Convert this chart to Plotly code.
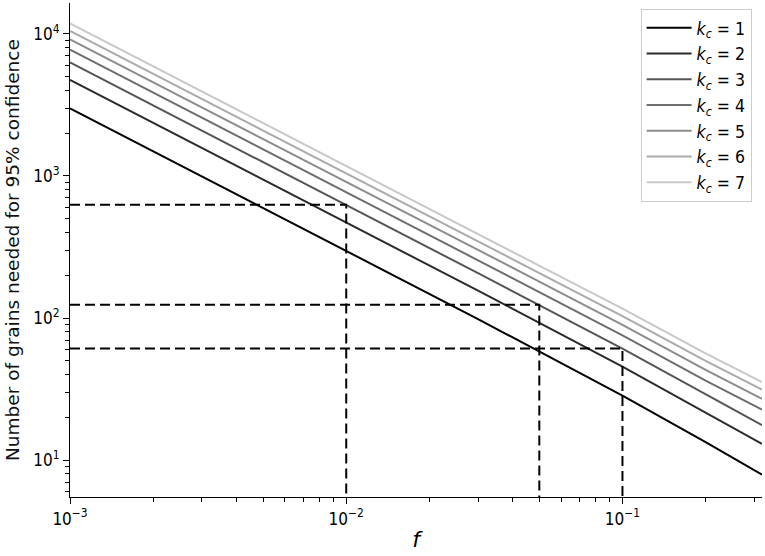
import plotly.graph_objects as go
import numpy as np

# Fraction f at which values were read
f_vals = [0.001, 0.01, 0.03, 0.1, 0.2, 0.32]
# Number of grains needed for 95% confidence, per k_c
n_k1 = [2994, 298, 98.4, 28.4, 13.4, 7.9]
n_k2 = [4742, 473, 156, 45.5, 21.6, 13.0]
n_k3 = [6293, 627, 207, 61.0, 29.2, 17.6]
n_k4 = [7750, 772, 255, 75.5, 36.3, 22.7]
n_k5 = [9150, 912, 302, 89.5, 43.2, 27.0]
n_k6 = [10500, 1048, 347, 103, 50.0, 31.3]
n_k7 = [11840, 1181, 391, 116.5, 56.5, 35.4]
series = [n_k1, n_k2, n_k3, n_k4, n_k5, n_k6, n_k7]
kc_labels = ["1", "2", "3", "4", "5", "6", "7"]
colors = ["#000000", "#2b2b2b", "#555555", "#6e6e6e", "#8c8c8c", "#aaaaaa", "#c8c8c8"]

# Reference points (k_c = 3)
dash_f = [0.01, 0.05, 0.1]
dash_n = [628, 124, 61]

x_lim = [0.001, 0.32]
y_lim = [5.5, 16500]

fig = go.Figure()
for vals, lab, c in zip(series, kc_labels, colors):
    fig.add_trace(go.Scatter(
        x=f_vals, y=vals, mode="lines",
        line=dict(color=c, width=2),
        name=f"<i>k</i><sub><i>c</i></sub> = {lab}",
    ))

for fx, ny in zip(dash_f, dash_n):
    fig.add_trace(go.Scatter(
        x=[x_lim[0], fx, fx], y=[ny, ny, y_lim[0]], mode="lines",
        line=dict(color="black", width=2, dash="10px,5px"),
        showlegend=False, hoverinfo="skip",
    ))

x_minor = [m * 10.0 ** e for e in (-3, -2, -1) for m in range(2, 10)]
x_minor = [v for v in x_minor if v <= x_lim[1]]
y_minor = [m * 10.0 ** e for e in (0, 1, 2, 3, 4) for m in range(2, 10)]
y_minor = [v for v in y_minor if y_lim[0] <= v <= y_lim[1]]

font = "DejaVu Sans Condensed, DejaVu Sans"
fig.update_layout(
    width=765, height=556,
    margin=dict(l=70, r=3, t=3, b=59),
    plot_bgcolor="white", paper_bgcolor="white",
    font=dict(family=font, color="black", size=16),
    legend=dict(
        x=0.985, y=0.988, xanchor="right", yanchor="top",
        bordercolor="#cccccc", borderwidth=1, bgcolor="white",
        font=dict(size=17.5, family=font), tracegroupgap=0, itemwidth=45,
    ),
    xaxis=dict(
        type="log", range=[np.log10(x_lim[0]), np.log10(x_lim[1])],
        showgrid=False, zeroline=False, automargin=False,
        showline=True, linecolor="black", linewidth=1.3,
        ticks="outside", ticklen=6, tickwidth=1.3, tickcolor="black",
        tickvals=[1e-3, 1e-2, 1e-1],
        ticktext=["10<sup>−3</sup>", "10<sup>−2</sup>", "10<sup>−1</sup>"],
        tickfont=dict(size=17, family=font),
        minor=dict(tickvals=x_minor, ticks="outside", ticklen=3.5, tickwidth=1, tickcolor="black"),
        title=dict(text="<i>f</i>", font=dict(size=22, family="DejaVu Sans"), standoff=4),
    ),
    yaxis=dict(
        type="log", range=[np.log10(y_lim[0]), np.log10(y_lim[1])],
        showgrid=False, zeroline=False, automargin=False,
        showline=True, linecolor="black", linewidth=1.3,
        ticks="outside", ticklen=6, tickwidth=1.3, tickcolor="black",
        tickvals=[1e1, 1e2, 1e3, 1e4],
        ticktext=["10<sup>1</sup>", "10<sup>2</sup>", "10<sup>3</sup>", "10<sup>4</sup>"],
        tickfont=dict(size=17, family=font),
        minor=dict(tickvals=y_minor, ticks="outside", ticklen=3.5, tickwidth=1, tickcolor="black"),
    ),
    annotations=[dict(
        text="Number of grains needed for 95% confidence",
        xref="paper", yref="paper", x=-0.0838, y=0.5,
        xanchor="center", yanchor="middle", textangle=-90, showarrow=False,
        font=dict(size=18.5, family="DejaVu Sans", color="#111111"),
    )],
)

fig.write_html("out.html", config={"displayModeBar": False},
               post_script="document.body.style.margin='0';document.body.style.padding='0';")
